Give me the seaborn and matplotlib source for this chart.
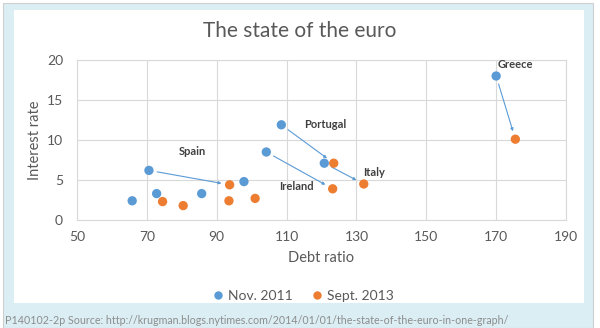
import matplotlib
matplotlib.use("Agg")
import matplotlib.pyplot as plt
from matplotlib.patches import Rectangle
import seaborn as sns
import pandas as pd

# ---- data ----
countries = ["", "", "", "", "Spain", "Ireland", "Portugal", "Italy", "Greece"]
debt_2011 = [65.8, 72.8, 85.7, 97.8, 70.6, 104.2, 108.5, 120.8, 170.0]
rate_2011 = [2.4, 3.3, 3.3, 4.8, 6.2, 8.5, 11.9, 7.1, 18.0]
debt_2013 = [74.5, 80.4, 93.5, 101.0, 93.7, 123.2, 123.5, 132.1, 175.5]
rate_2013 = [2.3, 1.8, 2.4, 2.7, 4.4, 3.9, 7.1, 4.5, 10.1]
periods = ["Nov. 2011", "Sept. 2013"]
arrow_countries = ["Spain", "Ireland", "Portugal", "Italy", "Greece"]
x_ticks = [50, 70, 90, 110, 130, 150, 170, 190]
y_ticks = [0, 5, 10, 15, 20]

# label offsets (pixels) relative to the Nov. 2011 point
label_offsets = {"Spain": (43, 19), "Ireland": (30, -34), "Portugal": (44, 0),
                 "Italy": (50, -9), "Greece": (19, 12)}

df = pd.DataFrame({
    "country": countries * 2,
    "debt": debt_2011 + debt_2013,
    "rate": rate_2011 + rate_2013,
    "period": [periods[0]] * len(countries) + [periods[1]] * len(countries),
})

sns.set_theme(style="white")
plt.rcParams["font.family"] = ["Lato", "DejaVu Sans"]

W, H = 600, 328
fig = plt.figure(figsize=(6, 3.28), dpi=100, facecolor="white")

# background frames
fig.add_artist(Rectangle((3 / W, 0), 590 / W, (H - 3) / H, transform=fig.transFigure,
                         facecolor="#dbeef4", edgecolor="#cfcfcf", lw=0.8, zorder=-10))
fig.add_artist(Rectangle((14 / W, (H - 303) / H), 570 / W, 293 / H, transform=fig.transFigure,
                         facecolor="white", edgecolor="none", zorder=-9))

ax = fig.add_axes([77 / W, (H - 220) / H, 489 / W, 160 / H])
ax.set_zorder(1)

blue = "#5b9bd5"
orange = "#ed7d31"
sns.scatterplot(data=df, x="debt", y="rate", hue="period", hue_order=periods,
                palette=[blue, orange], s=45, linewidth=0, ax=ax, zorder=3)

# arrows and labels
for name in arrow_countries:
    i = countries.index(name)
    ax.annotate("", xy=(debt_2013[i], rate_2013[i]), xytext=(debt_2011[i], rate_2011[i]),
                arrowprops=dict(arrowstyle="-|>", color=blue, lw=0.8, mutation_scale=4,
                                shrinkA=6, shrinkB=6), zorder=2)
    dx, dy = label_offsets[name]
    ax.annotate(name, xy=(debt_2011[i], rate_2011[i]), xytext=(dx, dy),
                textcoords="offset pixels", ha="center", va="center",
                fontsize=8, fontweight="bold", color="#404040", zorder=4)

ax.set_xlim(50, 190)
ax.set_ylim(0, 20)
ax.set_xticks(x_ticks)
ax.set_yticks(y_ticks)
ax.grid(True, color="#d9d9d9", lw=0.8)
ax.set_axisbelow(True)
for s in ax.spines.values():
    s.set_color("#d9d9d9")
    s.set_linewidth(0.8)
ax.tick_params(axis="both", length=0, labelsize=10, labelcolor="#595959")
ax.tick_params(axis="x", pad=8)
ax.tick_params(axis="y", pad=10)

ax.set_xlabel("Debt ratio", fontsize=10.5, color="#595959")
ax.set_ylabel("Interest rate", fontsize=10.5, color="#595959")
ax.xaxis.set_label_coords(0.5, -0.195)
ax.yaxis.set_label_coords(-0.072, 0.5)

sns.move_legend(ax, "center", bbox_to_anchor=(303 / W, 1 - 296 / H),
                bbox_transform=fig.transFigure, ncol=2, frameon=False, title=None,
                fontsize=10, handlelength=0.8, handletextpad=0.3, columnspacing=1.4,
                markerscale=0.9)
for t in ax.get_legend().get_texts():
    t.set_color("#595959")

fig.text(0.5, 1 - 31 / H, "The state of the euro", ha="center", va="center",
         fontsize=15, color="#595959")
fig.text(5 / W, 1 - 320 / H,
         "P140102-2p Source: http://krugman.blogs.nytimes.com/2014/01/01/the-state-of-the-euro-in-one-graph/",
         ha="left", va="center", fontsize=7.7, color="#8c8c8c")

fig.savefig("out.png", dpi=100, facecolor="white")
